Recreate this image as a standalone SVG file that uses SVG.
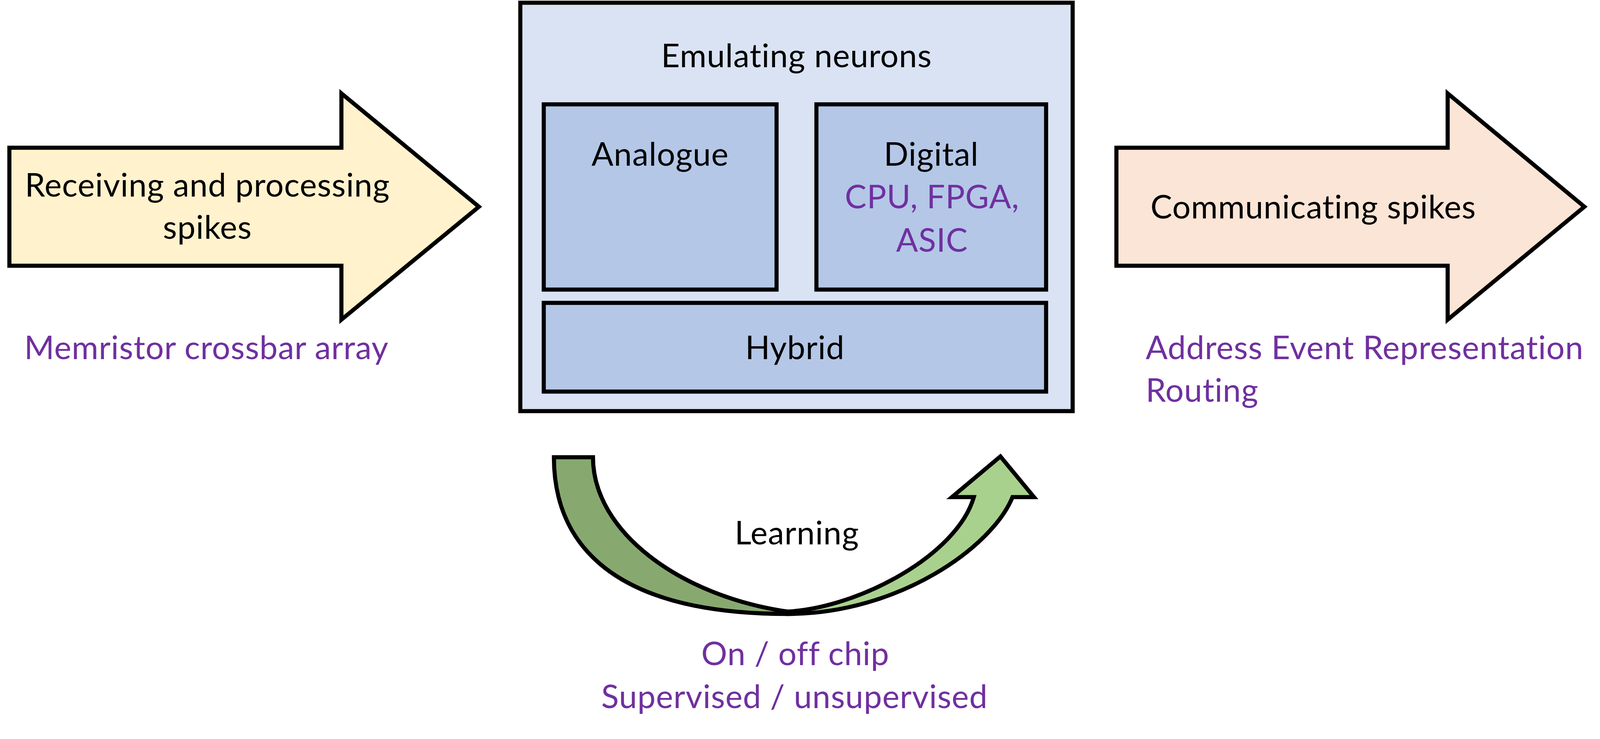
<svg xmlns="http://www.w3.org/2000/svg" width="4100" height="1891" viewBox="0 0 4100 1891">
<style>
.s{stroke:#000;stroke-width:10.5;stroke-linejoin:miter}
.t{font-family:Lato,"Open Sans","Liberation Sans",sans-serif;font-size:83px;letter-spacing:1px;fill:#000}
.p{fill:#7030A0}
.m{text-anchor:middle}
</style>
<rect width="4100" height="1891" fill="#fff"/>
<g id="receiving">
<polygon class="s" fill="#FFF2CC" points="24,378 874,378 874,239 1226,529 874,818 874,680 24,680"/>
<text class="t m" x="531" y="503">Receiving and processing</text>
<text class="t m" x="531" y="611">spikes</text>
<text class="t p" x="62" y="919">Memristor crossbar array</text>
</g>
<g id="emulating">
<rect class="s" x="1332" y="7" width="1414" height="1045" fill="#DAE3F3"/>
<text class="t m" x="2039" y="172">Emulating neurons</text>
</g>
<g id="analogue">
<rect class="s" x="1392" y="267" width="596" height="474" fill="#B4C7E7"/>
<text class="t m" x="1690" y="424">Analogue</text>
</g>
<g id="digital">
<rect class="s" x="2090" y="267" width="588" height="474" fill="#B4C7E7"/>
<text class="t m" x="2384" y="424">Digital</text>
<text class="t m p" x="2386" y="533">CPU, FPGA,</text>
<text class="t m p" x="2386" y="644">ASIC</text>
</g>
<g id="hybrid">
<rect class="s" x="1392" y="775" width="1286" height="227" fill="#B4C7E7"/>
<text class="t m" x="2035" y="919">Hybrid</text>
</g>
<g id="communicating">
<polygon class="s" fill="#FBE5D6" points="2858,378 3706,378 3706,239 4056,529 3706,818 3706,680 2858,680"/>
<text class="t m" x="3362" y="559">Communicating spikes</text>
<text class="t p" x="2933" y="919">Address Event Representation</text>
<text class="t p" x="2933" y="1028">Routing</text>
</g>
<g id="learning">
<path class="s" fill="#87A96F" d="M1418,1170 L1518,1170 C1518,1360 1740,1525 2016,1565 L2016,1571 C1566,1571 1418,1390 1418,1170 Z"/>
<path class="s" fill="#A9D18E" d="M2016,1565 C2200,1555 2450,1420 2493,1272 L2437,1272 L2561,1168 L2647,1272 L2592,1272 C2540,1400 2300,1571 2016,1571 Z"/>
<text class="t m" x="2040" y="1393">Learning</text>
<text class="t m p" x="2036" y="1702">On / off chip</text>
<text class="t m p" x="2034" y="1812">Supervised / unsupervised</text>
</g>
<g id="connectors"></g>
</svg>
